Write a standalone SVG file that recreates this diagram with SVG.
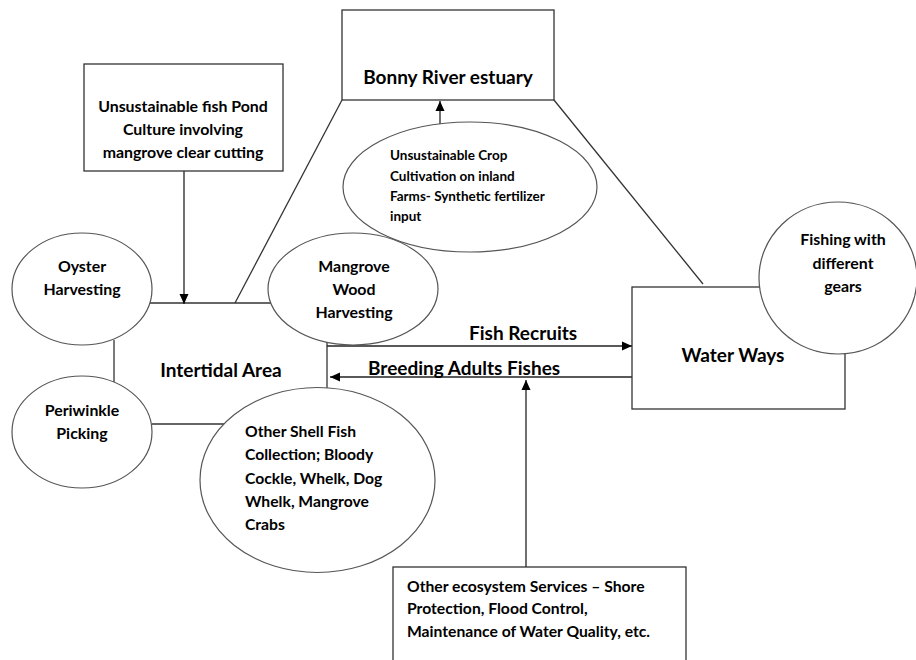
<svg xmlns="http://www.w3.org/2000/svg" width="916" height="660" viewBox="0 0 916 660">
<defs>
<marker id="ah" viewBox="0 0 10 10" refX="10" refY="5" markerWidth="10" markerHeight="10" markerUnits="userSpaceOnUse" orient="auto">
<path d="M0,0.5 L10,5 L0,9.5 z" fill="#000"/>
</marker>
<style>
.box{fill:#fff;stroke:#333;stroke-width:1.3}
.ell{fill:#fff;stroke:#555;stroke-width:1.2}
.ln{fill:none;stroke:#333;stroke-width:1.3}
.ar{fill:none;stroke:#222;stroke-width:1.3;marker-end:url(#ah)}
text{font-family:Lato,"Liberation Sans",Arial,sans-serif;font-weight:bold;fill:#000}
.c{text-anchor:middle;font-size:15.9px}
.s{font-size:15.7px}
.n{font-size:13.5px}
.big{font-size:19px}
</style>
</defs>
<g id="connectors">
<line class="ln" x1="342" y1="100" x2="235" y2="303"/>
<line class="ln" x1="554" y1="100" x2="703" y2="284"/>
<line class="ln" x1="150" y1="303" x2="272" y2="303"/>
<line class="ar" x1="184" y1="171" x2="184" y2="304"/>
<line class="ar" x1="440" y1="125" x2="440" y2="101"/>
<line class="ln" x1="114" y1="340" x2="114" y2="382"/>
<line class="ln" x1="152" y1="424" x2="226" y2="424"/>
<line class="ln" x1="327" y1="342" x2="327" y2="390"/>
<line class="ar" x1="327" y1="346" x2="632" y2="346"/>
<line class="ar" x1="632" y1="377" x2="330" y2="377"/>
<line class="ar" x1="526" y1="567" x2="526" y2="380"/>
</g>
<g id="bonny">
<rect class="box" x="342" y="10" width="212" height="90"/>
<text class="big" x="448" y="84" text-anchor="middle">Bonny River estuary</text>
</g>
<g id="pond">
<rect class="box" x="84" y="64" width="199" height="107"/>
<text class="c" x="183" y="112">Unsustainable fish Pond</text>
<text class="c" x="183" y="135">Culture involving</text>
<text class="c" x="183" y="158">mangrove clear cutting</text>
</g>
<g id="crop">
<ellipse class="ell" cx="470" cy="187" rx="127" ry="65"/>
<text class="n" x="390" y="160">Unsustainable Crop</text>
<text class="n" x="390" y="181">Cultivation on inland</text>
<text class="n" x="390" y="201">Farms- Synthetic fertilizer</text>
<text class="n" x="390" y="221">input</text>
</g>
<g id="intertidal">
<text class="big" x="221" y="377" text-anchor="middle">Intertidal Area</text>
</g>
<g id="oyster">
<ellipse class="ell" cx="82" cy="289" rx="70" ry="56"/>
<text class="c" x="82" y="272">Oyster</text>
<text class="c" x="82" y="295">Harvesting</text>
</g>
<g id="mangrove">
<ellipse class="ell" cx="353" cy="289" rx="85" ry="56"/>
<text class="c" x="354" y="272">Mangrove</text>
<text class="c" x="354" y="295">Wood</text>
<text class="c" x="354" y="318">Harvesting</text>
</g>
<g id="periwinkle">
<ellipse class="ell" cx="82" cy="432" rx="70" ry="56"/>
<text class="c" x="82" y="416">Periwinkle</text>
<text class="c" x="82" y="439">Picking</text>
</g>
<g id="shellfish">
<ellipse class="ell" cx="317.5" cy="480" rx="117.5" ry="92.5"/>
<text class="s" x="245" y="437">Other Shell Fish</text>
<text class="s" x="245" y="460">Collection; Bloody</text>
<text class="s" x="245" y="484">Cockle, Whelk, Dog</text>
<text class="s" x="245" y="507">Whelk, Mangrove</text>
<text class="s" x="245" y="530">Crabs</text>
</g>
<g id="fishlabels">
<text class="big" x="469" y="340">Fish Recruits</text>
<text class="big" x="368" y="375">Breeding Adults Fishes</text>
</g>
<g id="waterways">
<rect class="box" x="632" y="287" width="213" height="122"/>
<text class="big" x="733" y="362" text-anchor="middle">Water Ways</text>
</g>
<g id="fishing">
<ellipse class="ell" cx="838" cy="278" rx="79" ry="76"/>
<text class="c" x="843" y="245">Fishing with</text>
<text class="c" x="843" y="269">different</text>
<text class="c" x="843" y="292">gears</text>
</g>
<g id="ecosystem">
<rect class="box" x="393" y="567" width="293" height="100"/>
<text class="s" x="407" y="592">Other ecosystem Services – Shore</text>
<text class="s" x="407" y="614">Protection, Flood Control,</text>
<text class="s" x="407" y="637">Maintenance of Water Quality, etc.</text>
</g>
</svg>
